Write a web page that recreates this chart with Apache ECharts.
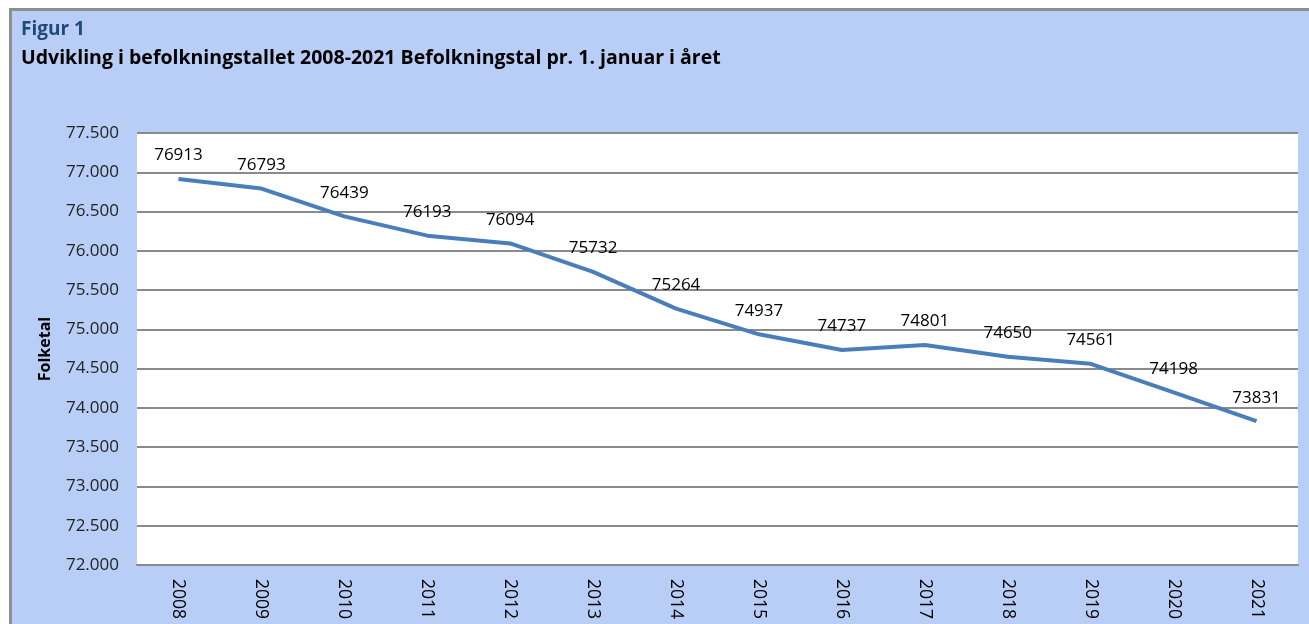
<!DOCTYPE html>
<html>
<head>
<meta charset="utf-8">
<script src="https://cdn.jsdelivr.net/npm/echarts@6/dist/echarts.min.js"></script>
<style>
  html, body { margin: 0; padding: 0; background: #fff; overflow: hidden; }
  #frame {
    position: absolute; left: 9px; top: 8px; width: 1320px; height: 640px;
    background: #b9cef7; border: 3px solid #8e8e8e; box-sizing: border-box;
  }
  #main { position: absolute; left: 0; top: 0; width: 1309px; height: 624px; }
</style>
</head>
<body>
<div id="frame"></div>
<div id="main"></div>
<script>
// data
const years = ['2008', '2009', '2010', '2011', '2012', '2013', '2014',
  '2015', '2016', '2017', '2018', '2019', '2020', '2021']
const folketal = [76913, 76793, 76439, 76193, 76094, 75732, 75264,
  74937, 74737, 74801, 74650, 74561, 74198, 73831]

const font = '"Open Sans", "Liberation Sans", sans-serif'

const chart = echarts.init(document.getElementById('main'))
chart.setOption({
  backgroundColor: 'transparent',
  textStyle: { fontFamily: font },
  title: [{
    text: 'Figur 1',
    left: 16,
    top: 15,
    textStyle: { color: '#1f497d', fontSize: 19, fontWeight: 'bold', fontFamily: font }
  }, {
    text: 'Udvikling i befolkningstallet 2008-2021 Befolkningstal pr. 1. januar i året',
    left: 16,
    top: 43,
    textStyle: { color: '#000', fontSize: 19.5, fontWeight: 'bold', fontFamily: font }
  }],
  grid: {
    left: 137,
    right: 11,
    top: 133,
    bottom: 59,
    show: true,
    backgroundColor: '#fff',
    borderWidth: 0
  },
  xAxis: {
    type: 'category',
    data: years,
    boundaryGap: true,
    axisLine: { show: true, lineStyle: { color: '#8a8a8a', width: 2 } },
    axisTick: { show: false },
    axisLabel: {
      rotate: -90,
      margin: 14,
      color: '#000',
      fontSize: 17.5,
      fontFamily: font
    }
  },
  yAxis: {
    type: 'value',
    min: 72000,
    max: 77500,
    interval: 500,
    name: 'Folketal',
    nameLocation: 'middle',
    nameGap: 84,
    nameTextStyle: { color: '#000', fontSize: 16, fontWeight: 'bold', fontFamily: font },
    axisLine: { show: false },
    axisTick: { show: false },
    splitLine: { lineStyle: { color: '#8a8a8a', width: 2 } },
    axisLabel: {
      margin: 18,
      color: '#222',
      fontSize: 17,
      fontFamily: font,
      formatter: v => String(v).replace(/(\d+)(\d{3})$/, '$1.$2')
    }
  },
  series: [{
    type: 'line',
    data: folketal,
    showSymbol: true,
    symbol: 'circle',
    symbolSize: 2,
    itemStyle: { color: 'rgba(74,126,187,0)' },
    lineStyle: { color: '#4a7ebb', width: 4 },
    label: {
      show: true,
      position: 'top',
      distance: 14,
      color: '#000',
      fontSize: 17,
      fontFamily: font
    },
    animation: false
  }]
})
</script>
</body>
</html>
